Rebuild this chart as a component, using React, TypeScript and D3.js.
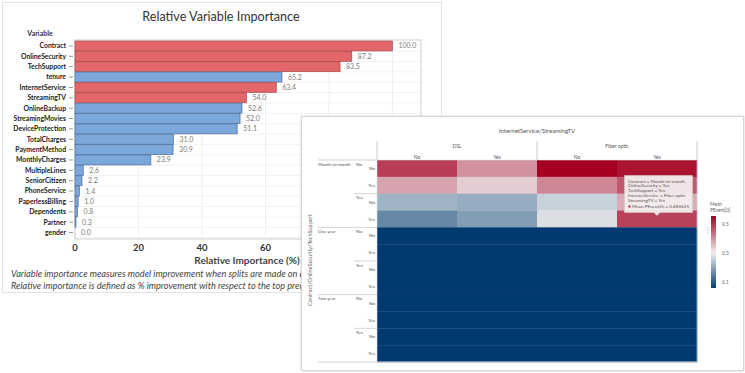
import React from 'react';
import { scaleLinear, scaleBand, interpolateRgb } from 'd3';

// left chart data
const variables = [
  'Contract', 'OnlineSecurity', 'TechSupport', 'tenure', 'InternetService', 'StreamingTV',
  'OnlineBackup', 'StreamingMovies', 'DeviceProtection', 'TotalCharges', 'PaymentMethod',
  'MonthlyCharges', 'MultipleLines', 'SeniorCitizen', 'PhoneService', 'PaperlessBilling',
  'Dependents', 'Partner', 'gender'
];
const importance = [100.0, 87.2, 83.5, 65.2, 63.4, 54.0, 52.6, 52.0, 51.1, 31.0, 30.9, 23.9, 2.6, 2.2, 1.4, 1.0, 0.8, 0.3, 0.0];
const highlighted = ['Contract', 'OnlineSecurity', 'TechSupport', 'InternetService', 'StreamingTV'];
const xTicks = [0, 20, 40, 60, 80, 100];

// heatmap data
const contractLevels = ['Month-to-month', 'One year', 'Two year'];
const securityLevels = ['No', 'Yes'];
const supportLevels = ['No', 'Yes'];
const internetLevels = ['DSL', 'Fiber optic'];
const streamingLevels = ['No', 'Yes'];
// rows: contract/security/support, cols: DSL No, DSL Yes, Fiber No, Fiber Yes
const meanPEvent = [
  [0.49, 0.40, 0.555, 0.535],
  [0.38, 0.335, 0.41, 0.46],
  [0.22, 0.21, 0.26, 0.37],
  [0.16, 0.19, 0.28, 0.485625],
  [0.055, 0.055, 0.055, 0.055],
  [0.055, 0.055, 0.055, 0.055],
  [0.055, 0.055, 0.055, 0.055],
  [0.055, 0.055, 0.055, 0.055],
  [0.055, 0.055, 0.055, 0.055],
  [0.055, 0.055, 0.055, 0.055],
  [0.055, 0.055, 0.055, 0.055],
  [0.055, 0.055, 0.055, 0.055]
];
const legendTicks = [0.1, 0.3, 0.5];
const tooltipLines = [
  'Contract = Month-to-month',
  'OnlineSecurity = Yes',
  'TechSupport = Yes',
  'InternetService = Fiber optic',
  'StreamingTV = Yes'
];

const FONT = 'Lato, "Noto Sans", sans-serif';

const BarChart: React.FC = () => {
  const x = scaleLinear().domain([0, 109]).range([75, 421]);
  const y = scaleBand<string>().domain(variables).range([41, 237.5]).paddingInner(0.04);
  const bw = y.bandwidth();
  return (
    <g fontFamily={FONT}>
      <rect x={2.5} y={2.5} width={439} height={290} fill="#fff" stroke="#e3e3e3" />
      <text x={221} y={20.5} textAnchor="middle" fontSize={12.6} fill="#333">Relative Variable Importance</text>
      <text x={40} y={36} textAnchor="middle" fontSize={7} fontWeight={700} fill="#333">Variable</text>
      {/* grid */}
      {xTicks.map(t => (
        <line key={t} x1={x(t)} x2={x(t)} y1={40} y2={239} stroke="#efefef" />
      ))}
      {variables.map(v => (
        <line key={v} x1={75} x2={421} y1={y(v)! + bw + 0.2} y2={y(v)! + bw + 0.2} stroke="#f2f2f2" />
      ))}
      <rect x={75} y={40} width={346} height={199} fill="none" stroke="#cfcfcf" />
      {variables.map((v, i) => {
        const red = highlighted.includes(v);
        const yy = y(v)!;
        return (
          <g key={v}>
            <text x={66} y={yy + bw / 2} dy="0.35em" textAnchor="end" fontSize={6.8} fontWeight={700} fill="#222">{v}</text>
            <line x1={69} x2={73} y1={yy + bw / 2} y2={yy + bw / 2} stroke="#999" />
            {importance[i] > 0 && (
              <rect x={x(0)} y={yy} width={Math.max(0.8, x(importance[i]) - x(0))} height={bw}
                fill={red ? '#e3666b' : '#7ba7db'} stroke={red ? '#a8484c' : '#4f6f99'} strokeWidth={0.7} />
            )}
            <text x={x(importance[i]) + 6} y={yy + bw / 2} dy="0.35em" fontSize={7} fill="#7a7a7a">
              {importance[i].toFixed(1)}
            </text>
          </g>
        );
      })}
      {xTicks.map(t => (
        <text key={t} x={x(t)} y={250.5} textAnchor="middle" fontSize={9.5} fontWeight={700} fill="#333">{t}</text>
      ))}
      <text x={247} y={263.5} textAnchor="middle" fontSize={10} fontWeight={700} fill="#444">Relative Importance (%)</text>
      <text x={11} y={277} fontSize={9.2} fontStyle="italic" fill="#444">
        Variable importance measures model improvement when splits are made on a predictor.
      </text>
      <text x={11} y={289} fontSize={9.2} fontStyle="italic" fill="#444">
        Relative importance is defined as % improvement with respect to the top predictor.
      </text>
    </g>
  );
};

const Heatmap: React.FC = () => {
  const colKeys = internetLevels.flatMap(a => streamingLevels.map(b => `${a}|${b}`));
  const rowKeys = contractLevels.flatMap(c => securityLevels.flatMap(s => supportLevels.map(t => `${c}|${s}|${t}`)));
  const cx = scaleBand<string>().domain(colKeys).range([377, 697]);
  const ry = scaleBand<string>().domain(rowKeys).range([160, 362]);
  const color = scaleLinear<string>().domain([0.055, 0.3, 0.555])
    .range(['#003a70', '#eeeeee', '#a50021']).interpolate(interpolateRgb).clamp(true);
  const groupX = scaleBand<string>().domain(internetLevels).range([377, 697]);
  const legY = scaleLinear().domain([0.059, 0.555]).range([288, 216]);
  const stops = [0.059, 0.15, 0.3, 0.45, 0.555];
  const cw = cx.bandwidth();
  const rh = ry.bandwidth();
  return (
    <g fontFamily={FONT}>
      <defs>
        <linearGradient id="leg" x1="0" x2="0" y1="1" y2="0">
          {stops.map(s => (
            <stop key={s} offset={(s - 0.059) / (0.555 - 0.059)} stopColor={color(s)} />
          ))}
        </linearGradient>
        <filter id="shadow" x="-5%" y="-5%" width="110%" height="110%">
          <feDropShadow dx="0" dy="0" stdDeviation="1.2" floodColor="#000" floodOpacity="0.18" />
        </filter>
      </defs>
      <rect x={301.5} y={116.5} width={442} height={254} fill="#fff" stroke="#d6d6d6" filter="url(#shadow)" />
      <text x={537} y={133} textAnchor="middle" fontSize={6} fill="#555">InternetService/StreamingTV</text>
      {internetLevels.map(l => (
        <g key={l}>
          <line x1={groupX(l)!} x2={groupX(l)!} y1={141} y2={160} stroke="#ccc" />
          <text x={groupX(l)! + groupX.bandwidth() / 2} y={148} textAnchor="middle" fontSize={5} fill="#555">{l}</text>
        </g>
      ))}
      <line x1={697} x2={697} y1={141} y2={160} stroke="#ccc" />
      {colKeys.map(k => (
        <text key={k} x={cx(k)! + cw / 2} y={159} textAnchor="middle" fontSize={5} fill="#555">{k.split('|')[1]}</text>
      ))}
      {rowKeys.map((k, i) => meanPEvent[i].map((v, j) => (
        <rect key={k + j} x={cx(colKeys[j])!} y={ry(k)!} width={cw + 0.3} height={rh + 0.3} fill={color(v)} />
      )))}
      <rect x={377} y={160} width={320} height={202} fill="none" stroke="#d8e0ea" strokeWidth={0.6} />
      {/* row labels */}
      {rowKeys.map(k => {
        const [c, s, t] = k.split('|');
        const yy = ry(k)!;
        return (
          <g key={k}>
            <text x={375} y={yy + rh / 2} dy="0.35em" textAnchor="end" fontSize={4.6} fill="#555">{t}</text>
            {t === 'No' && (
              <>
                <line x1={s === 'No' ? 318 : 354} x2={377} y1={yy} y2={yy} stroke="#c8c8c8" strokeWidth={0.8} />
                <text x={356} y={yy + 4} dy="0.35em" fontSize={4.6} fill="#555">{s}</text>
                {s === 'No' && <text x={318} y={yy + 4} dy="0.35em" fontSize={4.4} fill="#555">{c}</text>}
              </>
            )}
          </g>
        );
      })}
      <line x1={318} x2={697} y1={362} y2={362} stroke="#c8c8c8" strokeWidth={0.8} />
      <text transform="translate(312,260) rotate(-90)" textAnchor="middle" fontSize={5.5} fill="#666">
        Contract/OnlineSecurity/TechSupport
      </text>
      {/* legend */}
      <text x={710} y={206} fontSize={4.8} fill="#666">Mean</text>
      <text x={710} y={211.5} fontSize={4.8} fill="#666">PEvent[0]</text>
      <rect x={711} y={216} width={5} height={72} fill="url(#leg)" />
      {legendTicks.map(t => (
        <text key={t} x={722} y={legY(t)} dy="0.35em" fontSize={4.8} fill="#666">{t.toFixed(1)}</text>
      ))}
      <text x={707} y={232} fontSize={5} fill="#666">⁞</text>
      {/* tooltip */}
      <g>
        <path d="M624.5,175.5 H692.5 V212.5 H660 L657,215.5 L654,212.5 H624.5 Z" fill="#f4efef" fillOpacity={0.93} stroke="#cfcfcf" strokeWidth={0.6} />
        {tooltipLines.map((l, i) => (
          <text key={l} x={628} y={182.5 + i * 4.9} fontSize={4.6} fill="#555">{l}</text>
        ))}
        <circle cx={629.5} cy={206.5} r={1.2} fill={color(meanPEvent[3][3])} />
        <text x={632} y={207.5} fontSize={4.6} fill="#555">{`Mean PEvent[0] = ${meanPEvent[3][3]}`}</text>
      </g>
    </g>
  );
};

export default function App() {
  return (
    <svg width={745} height={373} style={{ position: 'absolute', left: 0, top: 0, background: '#fff' }}>
      <BarChart />
      <Heatmap />
    </svg>
  );
}
